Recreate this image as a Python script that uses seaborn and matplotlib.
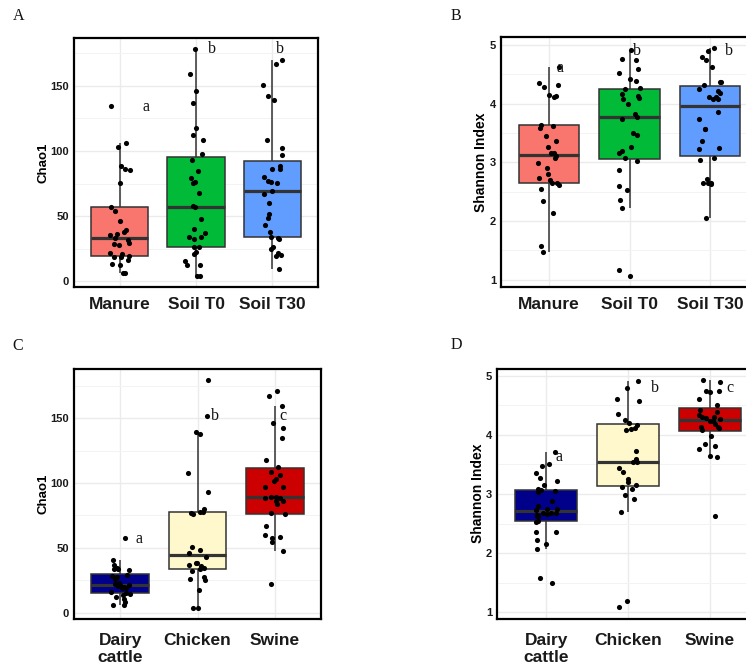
import numpy as np
import pandas as pd
import matplotlib
matplotlib.use("Agg")
import matplotlib.pyplot as plt
import seaborn as sns
from matplotlib.ticker import MultipleLocator

# ---------------- data ----------------
source_groups = ["Manure", "Soil T0", "Soil T30"]
animal_groups = ["Dairy\ncattle", "Chicken", "Swine"]

source_colors = ["#F8766D", "#00BA38", "#619CFF"]
animal_colors = ["#00008B", "#FFF8CC", "#CC0000"]

chao1_manure = [134.2, 106.3, 103.0, 86.0, 85.2, 88.2, 75.8, 57.2, 54.2, 46.3, 38.1, 39.7,
                36.1, 35.6, 33.3, 32.0, 28.5, 28.0, 29.2, 21.6, 20.6, 19.6, 18.3, 18.6,
                16.0, 13.5, 12.2, 6.4, 6.4]
chao1_soil_t0 = [178.0, 158.9, 146.2, 136.8, 117.5, 112.1, 108.6, 97.4, 92.8, 84.4, 79.1,
                 76.3, 75.8, 67.4, 58.0, 57.0, 47.8, 40.4, 36.9, 34.3, 33.6, 32.5, 26.2,
                 26.2, 22.4, 20.8, 15.8, 12.7, 12.7, 4.3, 4.3]
chao1_soil_t30 = [169.6, 167.0, 150.8, 141.9, 139.3, 108.1, 102.2, 96.6, 88.7, 85.9, 85.9,
                  80.1, 77.3, 76.3, 75.5, 69.0, 67.0, 60.3, 51.4, 48.3, 43.2, 38.1, 34.3,
                  33.1, 32.3, 26.4, 24.7, 21.4, 19.8, 19.6, 9.4]

shannon_manure = [4.62, 4.35, 4.31, 4.28, 4.14, 4.13, 4.11, 3.63, 3.62, 3.59, 3.44, 3.37,
                  3.26, 3.15, 3.15, 3.11, 3.08, 2.99, 2.91, 2.80, 2.73, 2.70, 2.64, 2.64,
                  2.62, 2.54, 2.34, 2.13, 1.57, 1.48]
shannon_soil_t0 = [4.92, 4.76, 4.75, 4.59, 4.52, 4.41, 4.38, 4.27, 4.24, 4.17, 4.13, 4.10,
                   4.08, 3.99, 3.82, 3.77, 3.73, 3.50, 3.47, 3.26, 3.20, 3.15, 3.08, 3.03,
                   2.87, 2.60, 2.52, 2.35, 2.22, 1.17, 1.07]
shannon_soil_t30 = [4.94, 4.90, 4.80, 4.75, 4.62, 4.37, 4.36, 4.31, 4.25, 4.21, 4.18, 4.11,
                    4.11, 4.08, 4.08, 3.85, 3.73, 3.56, 3.56, 3.36, 3.25, 3.22, 3.08, 3.04,
                    2.71, 2.65, 2.65, 2.65, 2.63, 2.05]

chao1_dairy = [57.2, 40.7, 37.1, 34.8, 33.5, 33.5, 32.7, 28.9, 28.4, 27.8, 25.8, 23.2, 21.9,
               21.1, 21.1, 20.5, 20.1, 19.3, 18.8, 16.0, 15.5, 14.5, 13.4, 12.1, 10.5, 8.5,
               5.7, 5.7]
chao1_chicken = [179.1, 151.5, 139.2, 137.9, 108.0, 93.3, 79.9, 77.3, 77.3, 76.8, 76.0, 51.0,
                 48.5, 45.9, 43.3, 38.1, 38.1, 36.6, 36.1, 34.3, 34.0, 32.2, 27.8, 26.3,
                 25.5, 17.3, 3.9, 3.9]
chao1_swine = [170.9, 167.0, 159.3, 146.4, 142.3, 134.8, 117.5, 112.4, 108.5, 106.2, 103.1,
               101.8, 96.6, 96.6, 89.4, 89.0, 88.5, 88.1, 86.3, 85.8, 84.0, 76.8, 76.0, 67.0,
               59.8, 58.5, 57.5, 54.6, 47.7, 21.9]

shannon_dairy = [3.71, 3.50, 3.47, 3.36, 3.27, 3.22, 3.16, 3.08, 3.07, 3.05, 3.03, 2.88, 2.80,
                 2.74, 2.74, 2.73, 2.68, 2.68, 2.67, 2.66, 2.64, 2.63, 2.62, 2.54, 2.52, 2.35,
                 2.35, 2.22, 2.15, 2.07, 1.58, 1.49]
shannon_chicken = [4.92, 4.79, 4.61, 4.58, 4.36, 4.25, 4.21, 4.17, 4.11, 4.10, 4.09, 3.72,
                   3.59, 3.54, 3.54, 3.44, 3.37, 3.26, 3.20, 3.16, 3.12, 3.09, 2.99, 2.91,
                   2.70, 1.19, 1.08]
shannon_swine = [4.93, 4.89, 4.75, 4.74, 4.73, 4.61, 4.51, 4.43, 4.39, 4.34, 4.31, 4.31, 4.29,
                 4.27, 4.24, 4.23, 4.19, 4.14, 4.14, 4.11, 4.09, 3.99, 3.85, 3.82, 3.77, 3.64,
                 3.63, 2.63]

letters_A = ["a", "b", "b"]
letters_B = ["a", "b", "b"]
letters_C = ["a", "b", "c"]
letters_D = ["a", "b", "c"]

# ---------------- style ----------------
sns.set_theme(style="white")
plt.rcParams["font.family"] = ["Liberation Sans", "DejaVu Sans"]
np.random.seed(7)

fig = plt.figure(figsize=(7.46, 6.72), dpi=100)
W, H = 746.0, 672.0


def make_ax(left, top, right, bottom):
    return fig.add_axes([left / W, 1 - bottom / H, (right - left) / W, (bottom - top) / H])


def draw_panel(ax, groups, series, colors, ylabel, major, minor, letters, letter_dx,
               letter_y, ylab_x, ylab_size, xpad):
    df = pd.DataFrame({
        "group": np.concatenate([[g] * len(s) for g, s in zip(groups, series)]),
        "value": np.concatenate([np.asarray(s, float) for s in series]),
    })
    pal = dict(zip(groups, colors))
    sns.boxplot(data=df, x="group", y="value", hue="group", order=groups,
                hue_order=groups, palette=pal, legend=False, saturation=1,
                width=0.75, showfliers=False, linecolor="#333333", linewidth=1.1,
                medianprops=dict(linewidth=2.3, color="#333333"),
                whiskerprops=dict(linewidth=1.1, color="#333333"),
                capprops=dict(linewidth=0), ax=ax)
    sns.stripplot(data=df, x="group", y="value", order=groups, color="black",
                  size=3.7, jitter=0.14, linewidth=0, ax=ax, zorder=3)
    vmin, vmax = df["value"].min(), df["value"].max()
    pad = 0.05 * (vmax - vmin)
    ax.set_ylim(vmin - pad, vmax + pad)
    ax.set_xlim(-0.6, 2.6)
    ax.yaxis.set_major_locator(MultipleLocator(major))
    ax.yaxis.set_minor_locator(MultipleLocator(minor))
    ax.set_axisbelow(True)
    ax.grid(True, which="major", color="#EBEBEB", linewidth=1.0)
    ax.grid(True, which="minor", axis="y", color="#F3F3F3", linewidth=0.7)
    for sp in ax.spines.values():
        sp.set_visible(True)
        sp.set_color("black")
        sp.set_linewidth(1.6)
    ax.set_xlabel("")
    ax.set_ylabel(ylabel, fontsize=ylab_size, fontweight="bold", color="black",
                  va="center")
    ax.yaxis.set_label_coords(ylab_x, 0.5)
    ax.tick_params(axis="y", which="major", length=2.5, width=0.8, color="#333333",
                   pad=1, labelsize=8, labelcolor="#1a1a1a")
    ax.tick_params(axis="x", which="major", length=2.5, width=0.8, color="#333333",
                   pad=xpad, labelsize=12.5, labelcolor="#1a1a1a")
    ax.tick_params(which="minor", length=0)
    for lab in ax.get_yticklabels() + ax.get_xticklabels():
        lab.set_fontweight("bold")
    for i, (t, dx, yy) in enumerate(zip(letters, letter_dx, letter_y)):
        ax.text(i + dx, yy, t, ha="center", va="center", fontsize=11.5,
                family=["Liberation Serif", "DejaVu Serif"], color="#111111",
                zorder=4)


axA = make_ax(74, 38, 318, 287)
draw_panel(axA, source_groups, [chao1_manure, chao1_soil_t0, chao1_soil_t30],
           source_colors, "Chao1", 50, 25, letters_A, [0.34, 0.21, 0.10],
           [134, 178, 178], -0.125, 9.5, 4.5)

axB = make_ax(501, 37, 758.3, 287)
draw_panel(axB, source_groups, [shannon_manure, shannon_soil_t0, shannon_soil_t30],
           source_colors, "Shannon Index", 1, 0.5, letters_B, [0.13, 0.09, 0.24],
           [4.60, 4.90, 4.90], -0.079, 10, 4.5)

axC = make_ax(74, 369, 321, 619)
draw_panel(axC, animal_groups, [chao1_dairy, chao1_chicken, chao1_swine],
           animal_colors, "Chao1", 50, 25, letters_C, [0.24, 0.22, 0.11],
           [56.7, 151.3, 151.3], -0.123, 9.5, 7.5)

axD = make_ax(497, 368.7, 759, 618.7)
draw_panel(axD, animal_groups, [shannon_dairy, shannon_chicken, shannon_swine],
           animal_colors, "Shannon Index", 1, 0.5, letters_D, [0.16, 0.33, 0.24],
           [3.63, 4.79, 4.79], -0.071, 10, 7.5)

for lab, x, y in [("A", 12.5, 20.5), ("B", 451, 20.5), ("C", 12.5, 349.5), ("D", 451, 349)]:
    fig.text(x / W, 1 - y / H, lab, fontsize=11.5,
             family=["Liberation Serif", "DejaVu Serif"], ha="left", va="baseline",
             color="#111111")

fig.savefig("out.png", dpi=100)
